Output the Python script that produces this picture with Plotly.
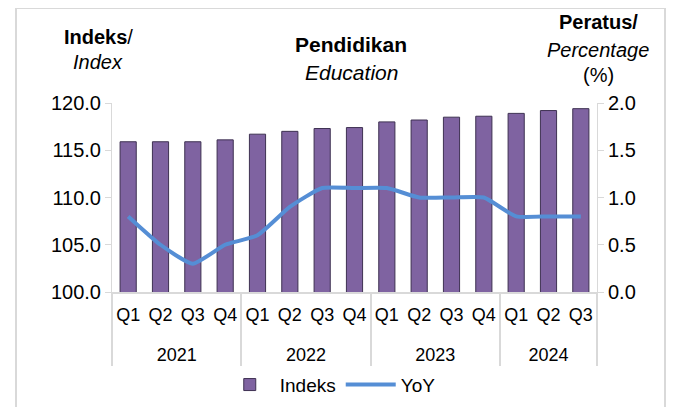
import plotly.graph_objects as go

years = ["2021"] * 4 + ["2022"] * 4 + ["2023"] * 4 + ["2024"] * 3
quarters = ["Q1", "Q2", "Q3", "Q4"] * 3 + ["Q1", "Q2", "Q3"]
indeks = [115.9, 115.9, 115.9, 116.1, 116.7, 117.0, 117.3, 117.4,
          118.0, 118.2, 118.5, 118.6, 118.9, 119.2, 119.4]
yoy = [0.8, 0.5, 0.3, 0.5, 0.6, 0.9, 1.1, 1.1,
       1.1, 1.0, 1.0, 1.0, 0.8, 0.8, 0.8]

font = "Liberation Sans, Arial, sans-serif"
grey = "#D9D9D9"

# an empty second line under each quarter pushes the year row further down
q_labels = [q + "<br>&nbsp;" for q in quarters]
x_cats = [years, q_labels]

# the page body adds an 8px margin, so the figure is drawn 8px in from the window edge
fig = go.Figure()
fig.add_trace(go.Bar(
    x=x_cats, y=indeks, name="Indeks",
    marker=dict(color="#7F63A1", line=dict(color="#3E3152", width=1)),
    width=0.5,
))
fig.add_trace(go.Scatter(
    x=x_cats, y=yoy, name="YoY", yaxis="y2",
    mode="lines", line=dict(color="#558ED5", width=4, shape="spline", smoothing=0.5),
))

fig.update_layout(
    width=663, height=399,
    margin=dict(l=104, r=74, t=95, b=115, autoexpand=False),
    paper_bgcolor="white", plot_bgcolor="white",
    font=dict(family=font, size=18, color="black"),
    showlegend=True,
    legend=dict(orientation="h", x=0.45, xanchor="center", y=-0.39, yanchor="top",
                font=dict(size=19), itemwidth=50, traceorder="normal"),
    xaxis=dict(
        type="multicategory", showline=True, linecolor=grey, linewidth=2,
        showdividers=True, dividercolor=grey, dividerwidth=2,
        tickfont=dict(size=18), ticks="", showgrid=False, automargin=False,
        ticklabelstandoff=5,
    ),
    yaxis=dict(
        range=[100, 120], tickvals=[100, 105, 110, 115, 120], tickformat=".1f",
        showline=True, linecolor=grey, linewidth=1, ticks="outside",
        tickcolor=grey, ticklen=6, showgrid=False, zeroline=False,
        tickfont=dict(size=20), automargin=False,
    ),
    yaxis2=dict(
        range=[0, 2], tickvals=[0, 0.5, 1, 1.5, 2], tickformat=".1f",
        overlaying="y", side="right", showline=True, linecolor=grey,
        linewidth=1, ticks="outside", tickcolor=grey, ticklen=6,
        showgrid=False, zeroline=False, tickfont=dict(size=20), automargin=False,
    ),
    bargap=0.5,
)


def px_x(p):
    return (p - 112) / 485


def px_y(p):
    return (292 - p) / 189


notes = [
    ("<b>Indeks</b>/", 98, 37, 20),
    ("<i>Index</i>", 98, 62, 20),
    ("<b>Pendidikan</b>", 351, 45, 21),
    ("<i>Education</i>", 351, 73, 21),
    ("<b>Peratus/</b>", 598, 22, 20),
    ("<i>Percentage</i>", 598, 50, 20),
    ("(%)", 598, 75, 20),
]
for text, x, y, size in notes:
    fig.add_annotation(text=text, x=px_x(x), y=px_y(y), xref="paper", yref="paper",
                       showarrow=False, xanchor="center", yanchor="middle",
                       font=dict(size=size, family=font))

fig.add_shape(type="rect", xref="paper", yref="paper",
              x0=px_x(16), x1=px_x(665), y0=px_y(440), y1=px_y(8),
              line=dict(color=grey, width=2), layer="below")
fig.add_shape(type="line", xref="paper", yref="paper",
              x0=px_x(16), x1=px_x(665), y0=px_y(3), y1=px_y(3),
              line=dict(color=grey, width=2), layer="below")

fig.write_html("out.html")
